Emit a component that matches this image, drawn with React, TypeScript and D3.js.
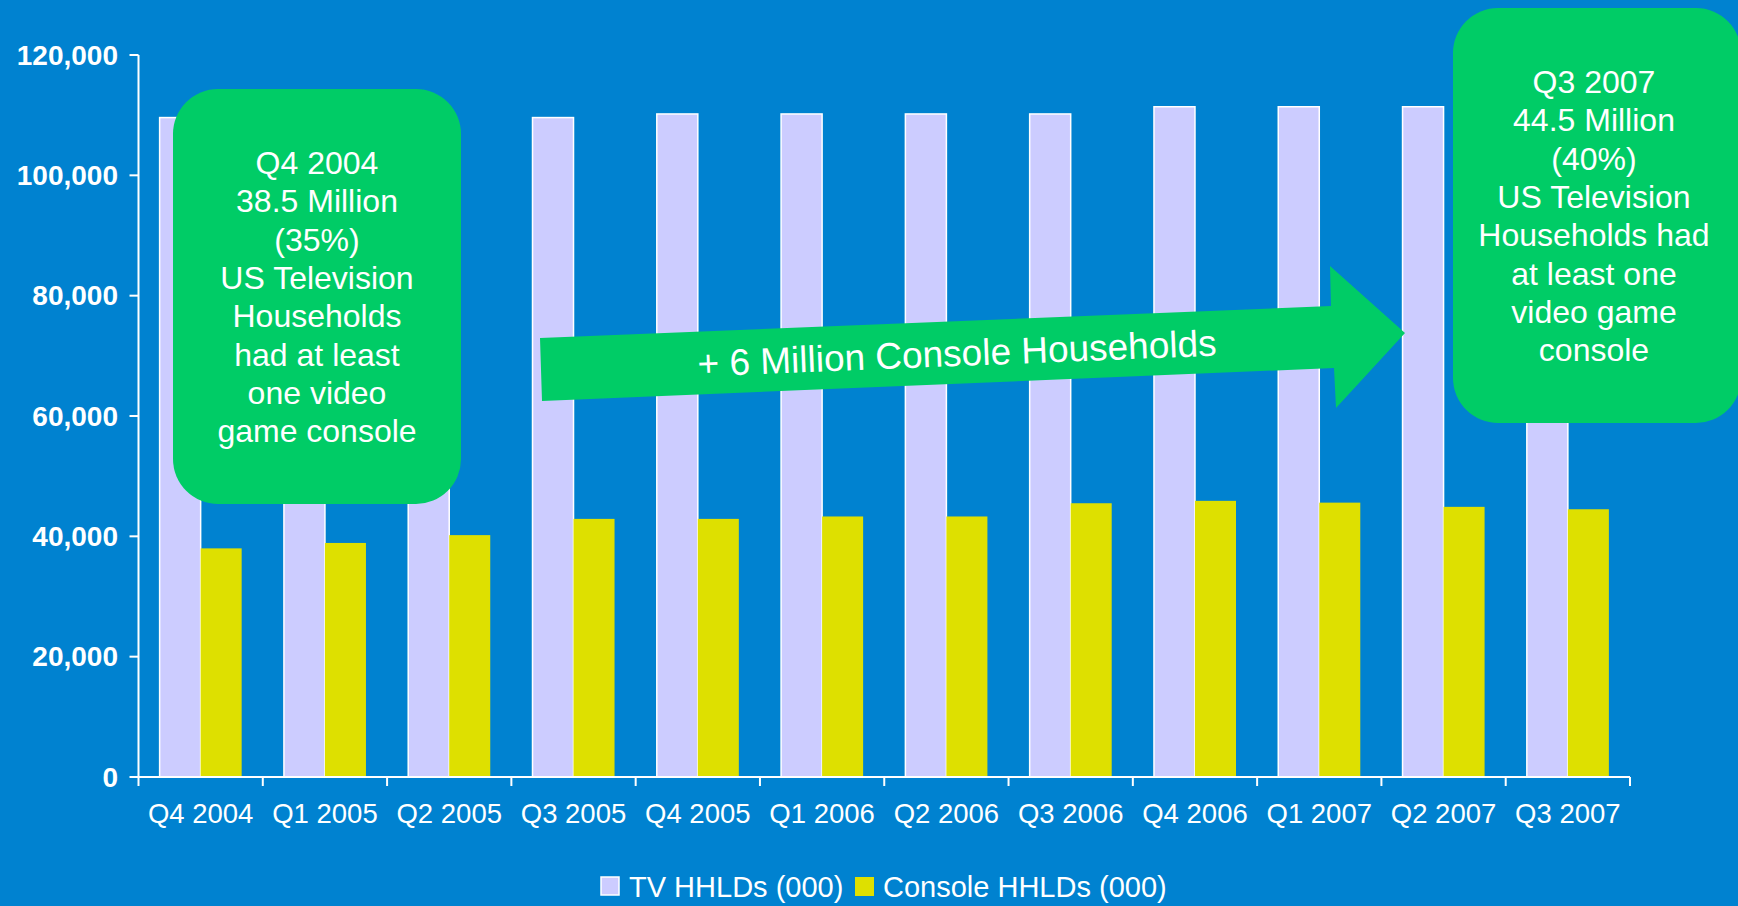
import React, { useEffect } from "react";
import * as d3 from "d3";

const categories = ["Q4 2004","Q1 2005","Q2 2005","Q3 2005","Q4 2005","Q1 2006","Q2 2006","Q3 2006","Q4 2006","Q1 2007","Q2 2007","Q3 2007"];
const tvHHLDs = [109600,109600,109600,109600,110200,110200,110200,110200,111400,111400,111400,111400];
const consoleHHLDs = [38000,38900,40200,42900,42900,43300,43300,45500,45900,45600,44900,44500];
const seriesNames = ["TV HHLDs (000)", "Console HHLDs (000)"];
const yTicks = [0,20000,40000,60000,80000,100000,120000];
const leftBoxLines = ["Q4 2004","38.5 Million","(35%)","US Television","Households","had at least","one video","game console"];
const rightBoxLines = ["Q3 2007","44.5 Million","(40%)","US Television","Households had","at least one","video game","console"];
const arrowLabel = "+ 6 Million Console Households";

const W = 1738, H = 906;
const BG = "#0082D0";
const TV = "#CCCCFF";
const CON = "#DEE000";
const GREEN = "#00CC66";
const FONT = "'Liberation Sans', Arial, sans-serif";

export default function App() {
  useEffect(() => {
    document.body.style.margin = "0";
    document.body.style.background = BG;
  }, []);

  const x0 = 138.5, x1 = 1630, yBase = 777, yTop = 55;
  const x = d3.scaleBand<string>().domain(categories).range([x0, x1]).paddingInner(0.34).paddingOuter(0.17);
  const xs = d3.scaleBand<string>().domain(seriesNames).range([0, x.bandwidth()]);
  const y = d3.scaleLinear().domain([0, 120000]).range([yBase, yTop]);
  const step = (x1 - x0) / categories.length;
  const fmt = d3.format(",");

  const boxW = 288, boxH = 415, r = 45;
  const lineH = 38.3;

  const arrowPts: [number, number][] = [
    [540, 338], [1331, 306], [1330, 266], [1405, 333], [1336, 408], [1334, 368], [542, 401],
  ];

  return (
    <svg width={W} height={H} style={{ position: "fixed", left: 0, top: 0, display: "block" }} fontFamily={FONT}>
      <rect x={0} y={0} width={W} height={H} fill={BG} />
      {categories.map((c, i) => (
        <g key={c}>
          <rect x={x(c)! + xs(seriesNames[0])!} y={y(tvHHLDs[i])} width={xs.bandwidth()} height={yBase - y(tvHHLDs[i])}
            fill={TV} stroke="#ffffff" strokeWidth={1.5} />
          <rect x={x(c)! + xs(seriesNames[1])!} y={y(consoleHHLDs[i])} width={xs.bandwidth()} height={yBase - y(consoleHHLDs[i])}
            fill={CON} />
        </g>
      ))}
      <line x1={x0} x2={x0} y1={yTop} y2={yBase} stroke="#fff" strokeWidth={2} />
      <line x1={x0 - 8} x2={x1} y1={yBase} y2={yBase} stroke="#fff" strokeWidth={2} />
      {yTicks.map(t => (
        <g key={t}>
          <line x1={x0 - 9} x2={x0} y1={y(t)} y2={y(t)} stroke="#fff" strokeWidth={2} />
          <text x={118} y={y(t) + 9.5} textAnchor="end" fill="#fff" fontSize={28} fontWeight="bold">{fmt(t)}</text>
        </g>
      ))}
      {d3.range(categories.length + 1).map(k => (
        <line key={k} x1={x0 + k * step} x2={x0 + k * step} y1={yBase} y2={yBase + 9} stroke="#fff" strokeWidth={2} />
      ))}
      {categories.map(c => (
        <text key={c} x={x(c)! + x.bandwidth() / 2} y={823} textAnchor="middle" fill="#fff" fontSize={27.5}>{c}</text>
      ))}
      <rect x={601} y={877} width={18} height={18} fill={TV} stroke="#fff" strokeWidth={1.5} />
      <text x={629} y={897} fill="#fff" fontSize={29}>{seriesNames[0]}</text>
      <rect x={855} y={877} width={19} height={19} fill={CON} />
      <text x={883} y={897} fill="#fff" fontSize={29}>{seriesNames[1]}</text>
      <polygon points={arrowPts.map(p => p.join(",")).join(" ")} fill={GREEN} />
      <text x={957} y={366} textAnchor="middle" fill="#fff" fontSize={37} transform="rotate(-2.3 957 353)">{arrowLabel}</text>
      <rect x={173} y={89} width={boxW} height={boxH} rx={r} ry={r} fill={GREEN} />
      {leftBoxLines.map((l, i) => (
        <text key={i} x={317} y={174 + i * lineH} textAnchor="middle" fill="#fff" fontSize={32}>{l}</text>
      ))}
      <rect x={1453} y={8} width={boxW} height={boxH} rx={r} ry={r} fill={GREEN} />
      {rightBoxLines.map((l, i) => (
        <text key={i} x={1594} y={93 + i * lineH} textAnchor="middle" fill="#fff" fontSize={32}>{l}</text>
      ))}
    </svg>
  );
}
